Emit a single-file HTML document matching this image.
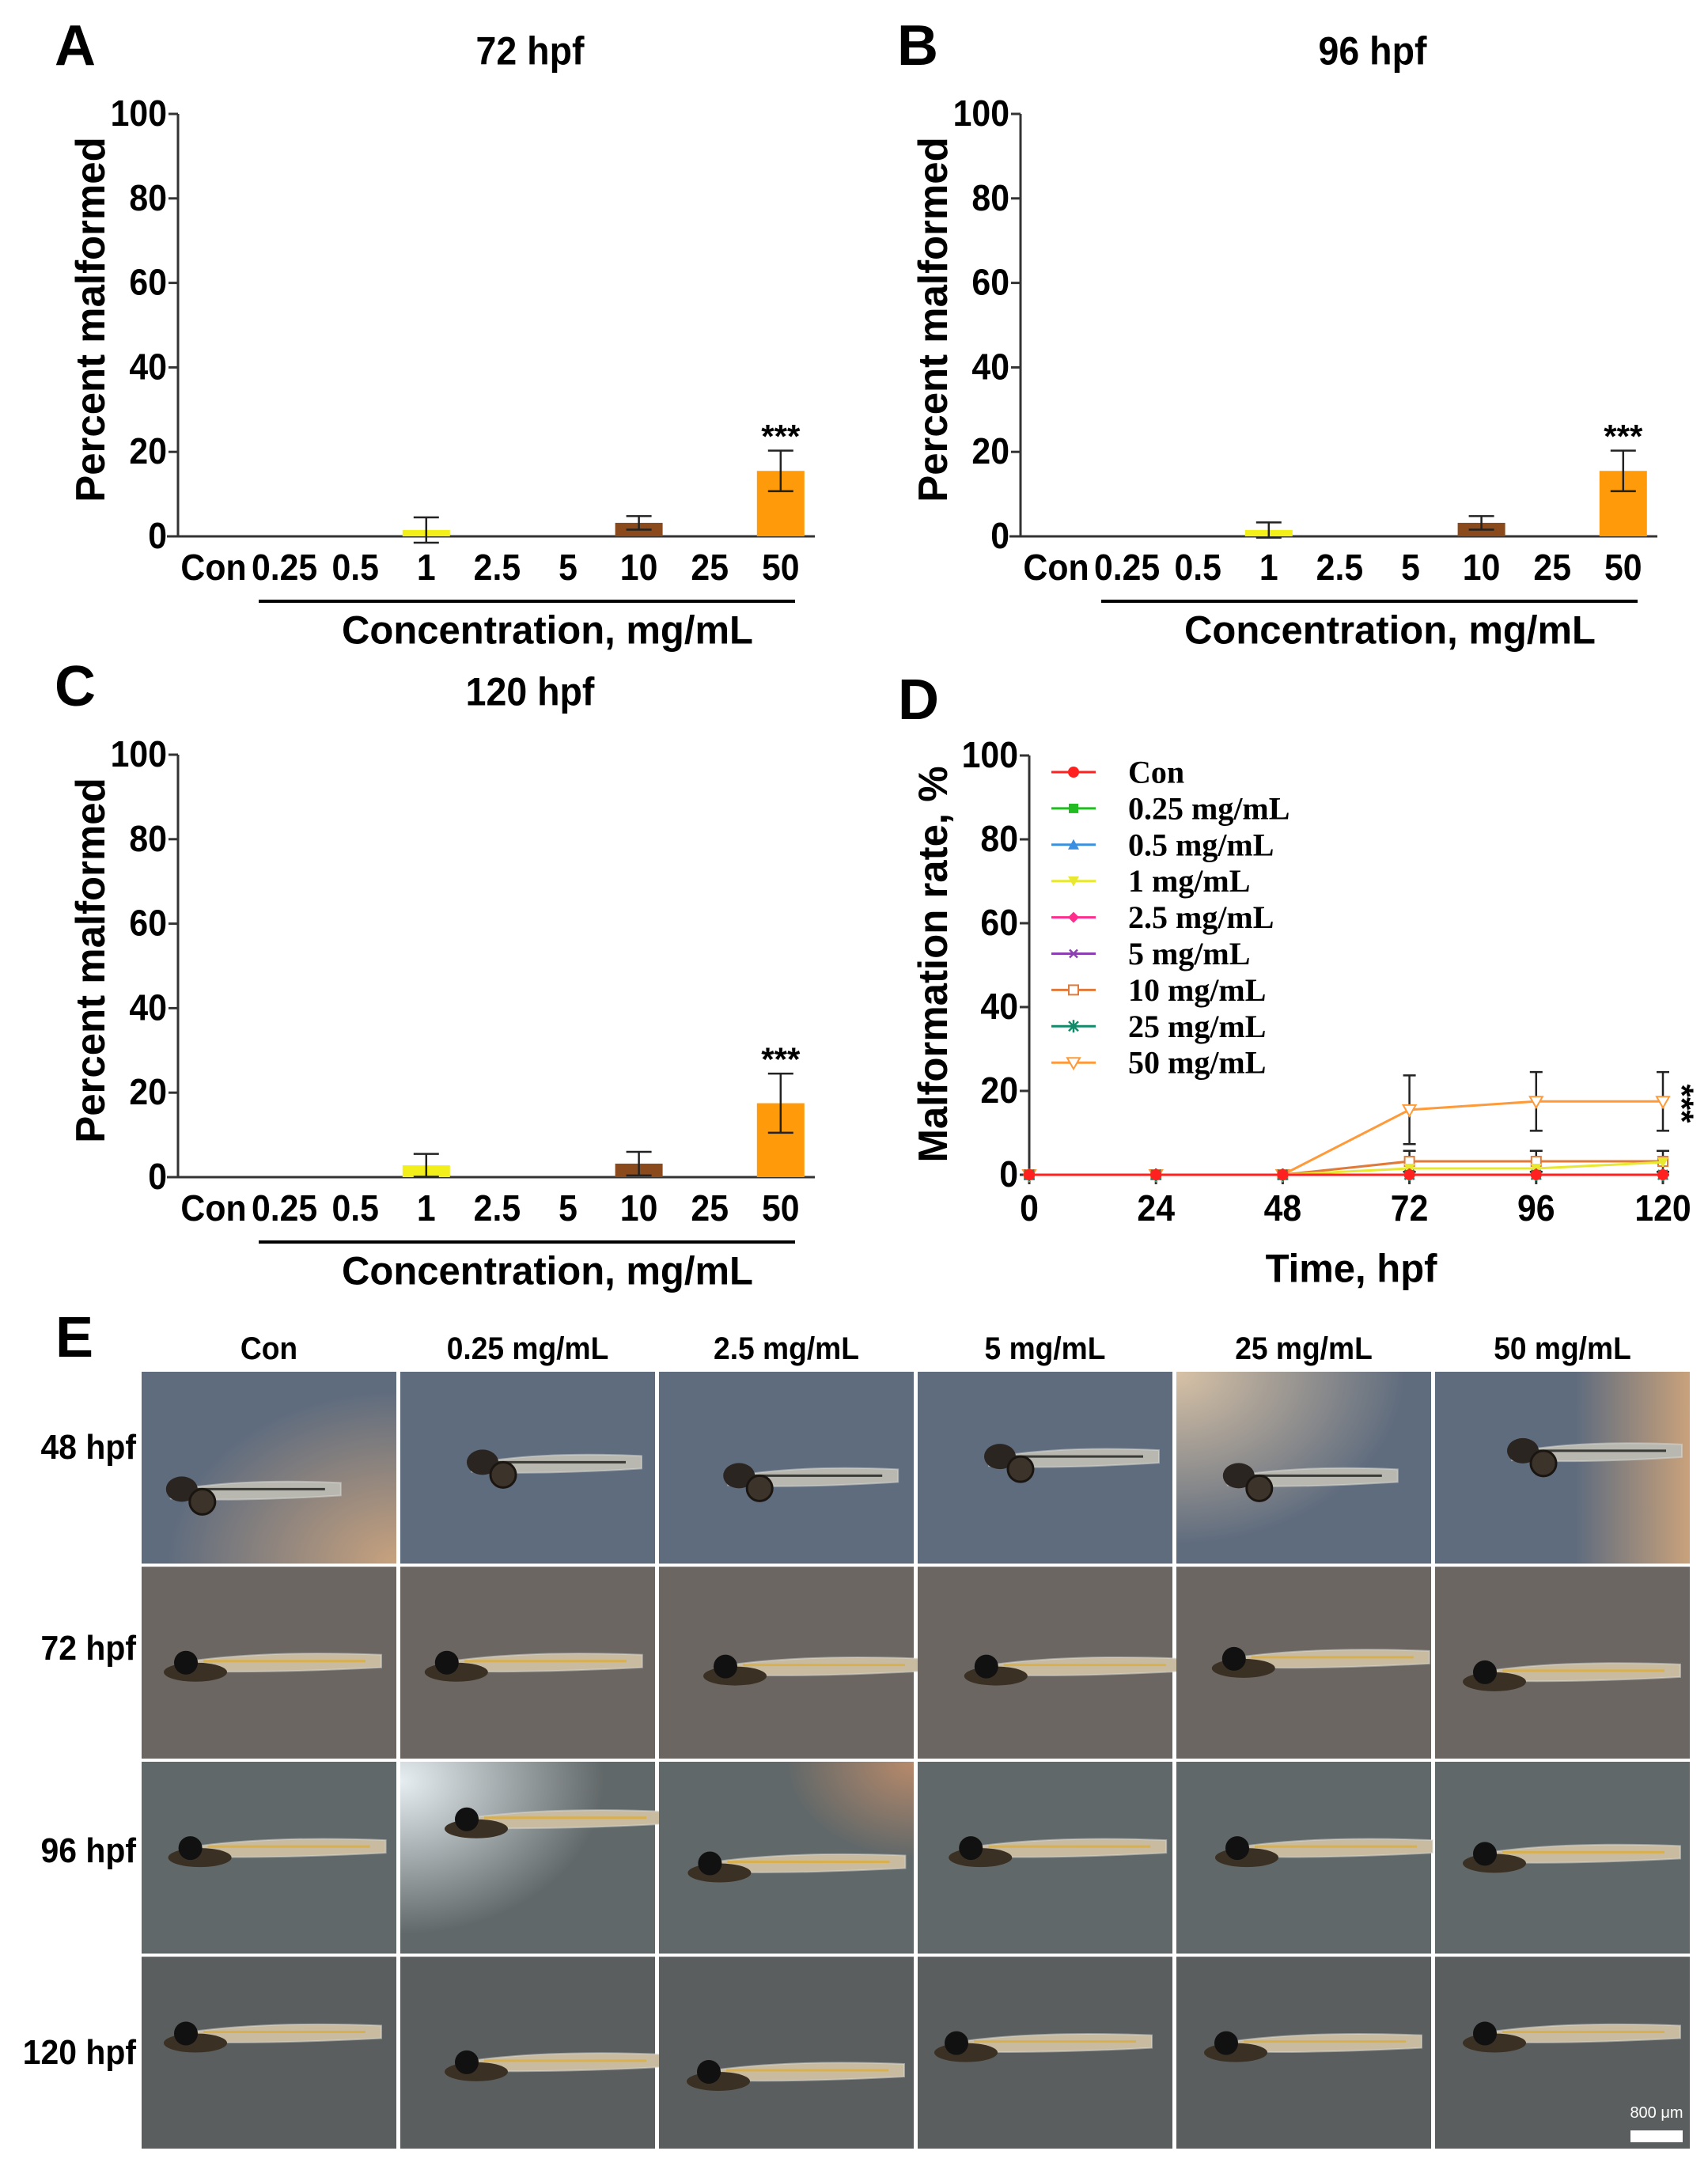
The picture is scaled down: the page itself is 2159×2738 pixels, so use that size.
<!DOCTYPE html>
<html><head><meta charset="utf-8"><style>
html,body{margin:0;padding:0;background:#fff;}
svg{display:block;}
</style></head><body>
<svg id="fig" xmlns="http://www.w3.org/2000/svg" width="2159" height="2738" viewBox="0 0 2159 2738">
<defs>
<radialGradient id="g-brownR" cx="1" cy="1" r="0.9"><stop offset="0" stop-color="#c8a27e"/><stop offset="1" stop-color="#c8a27e" stop-opacity="0"/></radialGradient>
<radialGradient id="g-brownTR" cx="1" cy="0" r="0.5"><stop offset="0" stop-color="#b88a6a"/><stop offset="1" stop-color="#b88a6a" stop-opacity="0"/></radialGradient>
<radialGradient id="g-brownTL" cx="0" cy="0" r="0.9"><stop offset="0" stop-color="#d8c2a6"/><stop offset="1" stop-color="#d8c2a6" stop-opacity="0"/></radialGradient>
<linearGradient id="g-brownRight" x1="0" y1="0" x2="1" y2="0"><stop offset="0.55" stop-color="#c9a27c" stop-opacity="0"/><stop offset="1" stop-color="#c9a27c"/></linearGradient>
<radialGradient id="g-whiteTL" cx="0" cy="0.1" r="0.8"><stop offset="0" stop-color="#e6eef2"/><stop offset="1" stop-color="#e6eef2" stop-opacity="0"/></radialGradient>
</defs>
</svg>
<script>
const NS='http://www.w3.org/2000/svg';
const svg=document.getElementById('fig');
const FONT='"Liberation Sans", Arial, sans-serif';
const SERIF='"Liberation Serif", "Times New Roman", serif';

// ---- Data: bar panels ----
const barCategories=['Con','0.25','0.5','1','2.5','5','10','25','50'];
const barColors=['#000','#000','#000','#f2ef1a','#000','#000','#8b4a1c','#000','#ff9a0a'];
const valuesA=[0,0,0,1.5,0,0,3.2,0,15.5];
const errorsA=[0,0,0,3.0,0,0,1.6,0,4.8];
const valuesB=[0,0,0,1.5,0,0,3.2,0,15.5];
const errorsB=[0,0,0,1.8,0,0,1.6,0,4.8];
const valuesC=[0,0,0,2.8,0,0,3.2,0,17.5];
const errorsC=[0,0,0,2.7,0,0,2.8,0,7.0];
const yTicks=[0,20,40,60,80,100];
// ---- Data: line panel D ----
const timePoints=[0,24,48,72,96,120];
const seriesNames=['Con','0.25 mg/mL','0.5 mg/mL','1 mg/mL','2.5 mg/mL','5 mg/mL','10 mg/mL','25 mg/mL','50 mg/mL'];
const seriesColors=['#ff2020','#22bb22','#3a8fe0','#e8e830','#ff2d8c','#8b3fb0','#e07a3a','#138a6a','#ff9a3a'];
const seriesMarkers=['circle','square','triangle','tridown','diamond','x','opensquare','star','opentri'];
const vCon=[0,0,0,0,0,0];
const v025=[0,0,0,0,0,0];
const v05=[0,0,0,0,0,0];
const v1=[0,0,0,1.5,1.5,3.0];
const v25=[0,0,0,0,0,0];
const v5=[0,0,0,0,0,0];
const v10=[0,0,0,3.2,3.2,3.2];
const v25b=[0,0,0,0,0,0];
const v50=[0,0,0,15.5,17.5,17.5];
const e10=[0,0,0,2.5,2.5,2.5];
const e50=[0,0,0,8.2,7.0,7.0];
// ---- Data: image grid ----
const colLabels=['Con','0.25 mg/mL','2.5 mg/mL','5 mg/mL','25 mg/mL','50 mg/mL'];
const rowLabels=['48 hpf','72 hpf','96 hpf','120 hpf'];

function el(tag,attrs,parent){const e=document.createElementNS(NS,tag);for(const k in attrs)e.setAttribute(k,attrs[k]);(parent||svg).appendChild(e);return e;}
function txt(x,y,s,size,opt){opt=opt||{};
  const g=el('g',{transform:`translate(${x},${y}) rotate(${opt.rot||0}) scale(${opt.sx||0.93},1)`});
  const t=el('text',{x:0,y:0,'font-family':opt.font||FONT,'font-size':size,'font-weight':'bold','text-anchor':opt.anchor||'middle','dominant-baseline':'central',fill:opt.fill||'#000'},g);
  t.textContent=s;return t;}

function barPanel(ox,oy,letter,title,vals,errs,id){
  const x0=ox, y0=oy, H=534;
  const xc=i=>ox+45+i*89.6;
  const ys=v=>y0-v/100*H;
  const L=txt(ox-130,oy-620,letter,72,{sx:1});
  
  const T=txt(ox+445,oy-613,title,50);
  const g=el('g',{});
  el('line',{x1:x0,y1:y0-H,x2:x0,y2:y0,stroke:'#333','stroke-width':3},g);
  el('line',{x1:x0-14,y1:y0,x2:ox+805,y2:y0,stroke:'#333','stroke-width':3},g);
  yTicks.forEach(v=>{el('line',{x1:x0-12,y1:ys(v),x2:x0,y2:ys(v),stroke:'#333','stroke-width':3},g);
    const t=txt(x0-14,ys(v),String(v),46,{anchor:'end'});});
  barCategories.forEach((c,i)=>{const t=txt(xc(i),y0+40,c,46);
    const v=vals[i];
    if(v>0){const r=el('rect',{x:xc(i)-30,y:ys(v),width:60,height:ys(0)-ys(v),fill:barColors[i]},g);
      
      const e=errs[i];
      el('line',{x1:xc(i),y1:ys(v+e),x2:xc(i),y2:ys(v-e),stroke:'#222','stroke-width':2.5},g);
      el('line',{x1:xc(i)-16,y1:ys(v+e),x2:xc(i)+16,y2:ys(v+e),stroke:'#222','stroke-width':2.5},g);
      el('line',{x1:xc(i)-16,y1:ys(v-e),x2:xc(i)+16,y2:ys(v-e),stroke:'#222','stroke-width':2.5},g);
      if(i===8){const s=txt(xc(i),ys(v+e)-18,'***',42,{sx:1});}
    }});
  el('line',{x1:ox+102,y1:y0+82,x2:ox+780,y2:y0+82,stroke:'#000','stroke-width':4},g);
  const xl=txt(ox+467,y0+119,'Concentration, mg/mL',50,{sx:0.98});
  const yl=txt(ox-111,y0-274,'Percent malformed',52,{rot:-90,sx:0.98});
}
barPanel(225,678,'A','72 hpf',valuesA,errorsA,'a');
barPanel(1290,678,'B','96 hpf',valuesB,errorsB,'b');
barPanel(225,1488,'C','120 hpf',valuesC,errorsC,'c');

// ---- Panel D ----
(function(){
  const x0=1301,x1=2102,y0=1485,H=530;
  const xs=t=>x0+t/120*(x1-x0);
  const ys=v=>y0-v/100*H;
  const L=txt(1161,885,'D',72,{sx:1});
  const g=el('g',{});
  el('line',{x1:x0,y1:ys(100),x2:x0,y2:y0,stroke:'#333','stroke-width':3},g);
  el('line',{x1:x0,y1:y0,x2:x1+8,y2:y0,stroke:'#333','stroke-width':3},g);
  yTicks.forEach(v=>{el('line',{x1:x0-12,y1:ys(v),x2:x0,y2:ys(v),stroke:'#333','stroke-width':3},g);
    const t=txt(x0-14,ys(v),String(v),46,{anchor:'end'});});
  timePoints.forEach(tp=>{el('line',{x1:xs(tp),y1:y0,x2:xs(tp),y2:y0+12,stroke:'#333','stroke-width':3},g);
    const t=txt(xs(tp),y0+43,String(tp),46);});
  const xl=txt(1708,1604,'Time, hpf',50,{sx:0.98});
  const yl=txt(1179,1219,'Malformation rate, %',52,{rot:-90,sx:0.98});
  function marker(m,x,y,c,parent){
    switch(m){
      case 'circle':el('circle',{cx:x,cy:y,r:7,fill:c},parent);break;
      case 'square':el('rect',{x:x-6,y:y-6,width:12,height:12,fill:c},parent);break;
      case 'triangle':el('polygon',{points:`${x},${y-7} ${x-7},${y+6} ${x+7},${y+6}`,fill:c},parent);break;
      case 'tridown':el('polygon',{points:`${x},${y+7} ${x-7},${y-6} ${x+7},${y-6}`,fill:c},parent);break;
      case 'diamond':el('polygon',{points:`${x},${y-7} ${x+7},${y} ${x},${y+7} ${x-7},${y}`,fill:c},parent);break;
      case 'x':el('path',{d:`M${x-5},${y-5}L${x+5},${y+5}M${x-5},${y+5}L${x+5},${y-5}`,stroke:c,'stroke-width':2.5},parent);break;
      case 'opensquare':el('rect',{x:x-6,y:y-6,width:12,height:12,fill:'#fff',stroke:c,'stroke-width':2},parent);break;
      case 'star':el('path',{d:`M${x-8},${y}L${x+8},${y}M${x},${y-8}L${x},${y+8}M${x-6},${y-6}L${x+6},${y+6}M${x-6},${y+6}L${x+6},${y-6}`,stroke:c,'stroke-width':2.5},parent);break;
      case 'opentri':el('polygon',{points:`${x},${y+8} ${x-8},${y-6} ${x+8},${y-6}`,fill:'#fff',stroke:c,'stroke-width':2},parent);break;
    }}
  const allV=[vCon,v025,v05,v1,v25,v5,v10,v25b,v50];
  const allE=[null,null,null,null,null,null,e10,null,e50];
  const order=[8,6,3,1,2,4,5,7,0];
  order.forEach(si=>{
    const vals=allV[si],c=seriesColors[si];
    const sg=el('g',{},g);
    const errs=allE[si];
    if(errs){timePoints.forEach((tp,i)=>{if(errs[i]>0){const x=xs(tp);
      el('line',{x1:x,y1:ys(vals[i]+errs[i]),x2:x,y2:ys(vals[i]-errs[i]),stroke:'#222','stroke-width':2.5},sg);
      el('line',{x1:x-8,y1:ys(vals[i]+errs[i]),x2:x+8,y2:ys(vals[i]+errs[i]),stroke:'#222','stroke-width':2.5},sg);
      el('line',{x1:x-8,y1:ys(vals[i]-errs[i]),x2:x+8,y2:ys(vals[i]-errs[i]),stroke:'#222','stroke-width':2.5},sg);}});}
    el('polyline',{points:timePoints.map((tp,i)=>xs(tp)+','+ys(vals[i])).join(' '),fill:'none',stroke:c,'stroke-width':3},sg);
    timePoints.forEach((tp,i)=>marker(seriesMarkers[si],xs(tp),ys(vals[i]),c,sg));
  });
  const st=txt(2126,1395,'***',42,{rot:90,sx:1});
  seriesNames.forEach((n,i)=>{const y=976+i*45.9;
    const lg=el('g',{},g);
    el('line',{x1:1329,y1:y,x2:1385,y2:y,stroke:seriesColors[i],'stroke-width':3},lg);
    marker(seriesMarkers[i],1357,y,seriesColors[i],lg);
    const t=el('text',{x:1426,y:y,'font-family':SERIF,'font-size':40,'font-weight':'bold','dominant-baseline':'central'},lg);t.textContent=n;});
})();

// ---- Panel E: image grid ----
(function(){
  const E=txt(94,1691,'E',72,{sx:1});
  const left=179,cw=322,gap=5,top=1734,rh=242.5,rgap=4;
  const rowBg=['#5f6c7e','#6b6662','#616869','#5b5e5e'];
  const specials={'0-0':'g-brownR','0-4':'g-brownTL','0-5':'g-brownRight','2-1':'g-whiteTL','2-2':'g-brownTR'};
  const fishX=[[12,50,48,50,32,55],[20,22,40,42,32,25],[24,40,26,28,35,25],[20,40,25,15,25,25]];
  const fishY=[[0.62,0.48,0.55,0.45,0.55,0.42],[0.5,0.5,0.52,0.52,0.48,0.55],[0.45,0.3,0.53,0.45,0.45,0.48],[0.4,0.55,0.6,0.45,0.45,0.4]];
  colLabels.forEach((c,j)=>{const t=txt(left+j*(cw+gap)+cw/2,1705,c,40);});
  rowLabels.forEach((r,i)=>{const yc=top+i*(rh+rgap);
    const t=txt(172,[1830,2084,2340,2595][i],r,44,{anchor:'end'});
    colLabels.forEach((c,j)=>{const x=left+j*(cw+gap);
      const cg=el('g',{});
      el('rect',{x:x,y:yc,width:cw,height:rh,fill:rowBg[i]},cg);
      const sp=specials[i+'-'+j];if(sp)el('rect',{x:x,y:yc,width:cw,height:rh,fill:`url(#${sp})`},cg);
      const fx=x+fishX[i][j]*1.4+20, fy=yc+rh*fishY[i][j];
      const len=i===0?215:255;
      el('path',{d:`M${fx},${fy} Q${fx+len*0.4},${fy-16} ${fx+len},${fy-10} L${fx+len},${fy+6} Q${fx+len*0.4},${fy+14} ${fx},${fy+10}Z`,fill:i===0?'#b9b8b0':'#c9bba0',stroke:'#d9dcd8','stroke-width':2,'stroke-opacity':0.5},cg);
      el('line',{x1:fx+30,y1:fy-2,x2:fx+len-20,y2:fy-2,stroke:i===0?'#3a3a36':'#d8b050','stroke-width':3},cg);
      if(i===0){el('ellipse',{cx:fx+14,cy:fy-2,rx:20,ry:16,fill:'#2a2520'},cg);el('circle',{cx:fx+40,cy:fy+14,r:16,fill:'#3c342a',stroke:'#1a1510','stroke-width':3},cg);}
      else{el('ellipse',{cx:fx+20,cy:fy+12,rx:40,ry:12,fill:'#3a3024'},cg);el('circle',{cx:fx+8,cy:fy,r:15,fill:'#111'},cg);}
    });});
  const sb=el('g',{});
  el('rect',{x:2061,y:2693,width:66,height:15,fill:'#fff'},sb);
  const st=el('text',{x:2094,y:2677,'font-family':FONT,'font-size':20,'text-anchor':'middle',fill:'#fff'},sb);st.textContent='800 μm';
})();
</script>
</body></html>
